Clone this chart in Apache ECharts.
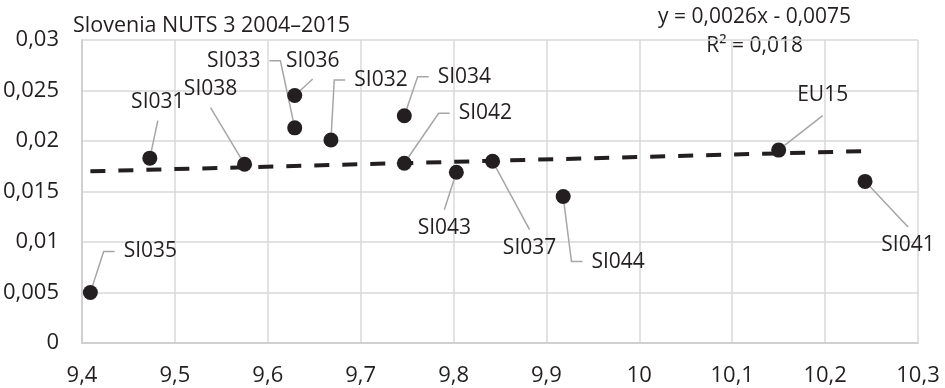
<!DOCTYPE html>
<html>
<head>
<meta charset="utf-8">
<script src="https://cdn.jsdelivr.net/npm/echarts@6/dist/echarts.min.js"></script>
<style>
  html, body { margin: 0; padding: 0; background: #fff; }
  #chart { width: 945px; height: 388px; }
</style>
</head>
<body>
<div id="chart"></div>
<script>
// ---- data ----
const regionNames = ['SI031','SI032','SI033','SI034','SI035','SI036','SI037','SI038','SI041','SI042','SI043','SI044','EU15'];
const xValues = [9.473, 9.668, 9.629, 9.747, 9.409, 9.629, 9.842, 9.575, 10.243, 9.747, 9.803, 9.918, 10.150];
const yValues = [0.0183, 0.0201, 0.0213, 0.0225, 0.0050, 0.0245, 0.0180, 0.0177, 0.0160, 0.0178, 0.0169, 0.0145, 0.0191];
const trendX = [9.409, 10.243];
const trendY = [0.0170, 0.0190];
const titleText = 'Slovenia NUTS 3 2004–2015';
const equationText = 'y = 0,0026x - 0,0075';
const r2Text = 'R² = 0,018';

// ---- label placement (styling only) ----
const labelDx = [8, 50, -61, 60, 60, 18, 37, -34, 43, 81, -12, 55, 44];
const labelDy = [-56, -60, -67, -39, -41, -35, 87, -75, 64, -50, 56, 65, -55];
const leaderElbow = [0, 1, 1, 1, 1, 0, 0, 0, 0, 1, 0, 1, 0];
const vPad = [8, 0, 0, 0, 0, 8, 8, 8, 8, 0, 8, 0, 10];

const FONT = 'Open Sans';
const DARK = '#231f20';

const scatterData = regionNames.map((n, i) => ({
  name: n,
  value: [xValues[i], yValues[i]],
  label: { padding: leaderElbow[i] ? [0, 9] : [vPad[i], 0] },
  labelLine: { length2: leaderElbow[i] ? 11 : 0 }
}));

const chart = echarts.init(document.getElementById('chart'), null, { renderer: 'canvas' });
chart.setOption({
  animation: false,
  backgroundColor: '#fff',
  textStyle: { fontFamily: FONT },
  title: {
    text: titleText,
    left: 73,
    top: 15,
    padding: 0,
    textStyle: { fontFamily: FONT, fontSize: 21.5, fontWeight: 'normal', color: DARK }
  },
  graphic: [
    { type: 'text', x: 754.6, y: 17, style: { text: equationText, align: 'center', verticalAlign: 'middle', font: '21px "Open Sans"', fill: DARK } },
    { type: 'text', x: 754.6, y: 46.5, style: { text: r2Text, align: 'center', verticalAlign: 'middle', font: '21px "Open Sans"', fill: DARK } }
  ],
  grid: { left: 82, right: 27, top: 40, bottom: 45, containLabel: false },
  xAxis: {
    type: 'value',
    min: 9.4, max: 10.3, interval: 0.1,
    axisLine: { show: true, lineStyle: { color: '#d0d0d0', width: 2 } },
    axisTick: { show: false },
    splitLine: { show: true, lineStyle: { color: '#d9d9d9', width: 1.5 } },
    axisLabel: {
      margin: 22, color: DARK, fontSize: 22, fontFamily: FONT,
      formatter: v => String(Math.round(v * 10) / 10).replace('.', ',')
    }
  },
  yAxis: {
    type: 'value',
    min: 0, max: 0.03, interval: 0.005,
    axisLine: { show: true, lineStyle: { color: '#d0d0d0', width: 2 } },
    axisTick: { show: false },
    splitLine: { show: true, lineStyle: { color: '#d9d9d9', width: 1.5 } },
    axisLabel: {
      margin: 23, color: DARK, fontSize: 22, fontFamily: FONT,
      formatter: v => String(Math.round(v * 1000) / 1000).replace('.', ',')
    }
  },
  series: [
    {
      type: 'line',
      data: trendX.map((x, i) => [x, trendY[i]]),
      symbol: 'none',
      z: 2,
      silent: true,
      lineStyle: { color: DARK, width: 4, type: [15, 13] }
    },
    {
      type: 'scatter',
      data: scatterData,
      symbol: 'circle',
      symbolSize: 15,
      z: 3,
      itemStyle: { color: DARK, opacity: 1 },
      label: {
        show: true,
        position: 'inside',
        formatter: p => p.name,
        color: DARK,
        fontSize: 21,
        fontFamily: FONT,
        textBorderWidth: 0,
        opacity: 1,
        backgroundColor: 'rgba(255,255,255,0)'
      },
      labelLine: { show: true, lineStyle: { color: '#a6a6a6', width: 1.5, opacity: 1 } },
      labelLayout: p => ({ dx: labelDx[p.dataIndex], dy: labelDy[p.dataIndex] }),
      emphasis: { disabled: true }
    }
  ]
});
</script>
</body>
</html>
